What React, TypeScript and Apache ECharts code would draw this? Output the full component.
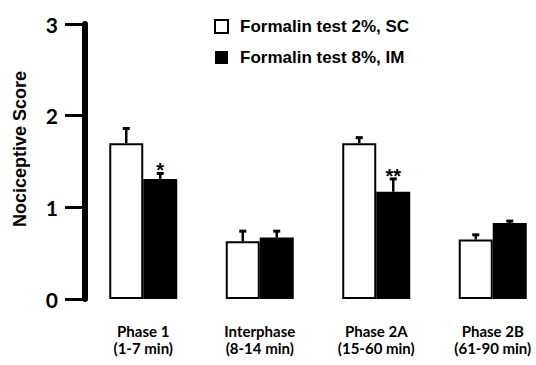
import React, { useEffect, useRef } from "react";
import * as echarts from "echarts";

const categories = ["Phase 1\n(1-7 min)", "Interphase\n(8-14 min)", "Phase 2A\n(15-60 min)", "Phase 2B\n(61-90 min)"];
const seriesNames = ["Formalin test 2%, SC", "Formalin test 8%, IM"];
const values2SC = [1.70, 0.63, 1.70, 0.65];
const errors2SC = [0.16, 0.11, 0.06, 0.05];
const values8IM = [1.31, 0.67, 1.17, 0.83];
const errors8IM = [0.06, 0.07, 0.14, 0.02];
const sig8IM = ["*", "", "**", ""];

const BAR_W = 34;

function errSeries(name: string, values: number[], errs: number[], sign: number, sig: string[]) {
  return {
    type: "custom",
    name: name + " err",
    clip: false,
    z: 5,
    silent: true,
    encode: { x: 0, y: 1 },
    data: values.map((v, i) => [i, v, errs[i]]),
    renderItem: (params: any, api: any) => {
      const i = api.value(0);
      const v = api.value(1);
      const e = api.value(2);
      const idx = params.dataIndex;
      const s = sig[idx] || "";
      const base = api.coord([i, v]);
      const top = api.coord([i, v + e]);
      const x = base[0] + sign * (BAR_W / 2);
      const children: any[] = [
        { type: "line", shape: { x1: x, y1: base[1], x2: x, y2: top[1] }, style: { stroke: "#000", lineWidth: 2.5 } },
        { type: "line", shape: { x1: x - 3.5, y1: top[1], x2: x + 3.5, y2: top[1] }, style: { stroke: "#000", lineWidth: 3 } },
      ];
      if (s) {
        children.push({
          type: "text",
          style: {
            text: s,
            x: x,
            y: top[1] + 7,
            align: "center",
            verticalAlign: "bottom",
            font: "bold 20px 'Liberation Sans', Arial, sans-serif",
            fill: "#000",
          },
        });
      }
      return { type: "group", children };
    },
  };
}

export default function App() {
  const ref = useRef<HTMLDivElement>(null);
  useEffect(() => {
    if (!ref.current) return;
    const chart = echarts.init(ref.current, undefined, { renderer: "svg" });
    chart.setOption({
      animation: false,
      backgroundColor: "#fff",
      grid: { left: 85, top: 24, width: 466, height: 275, outerBoundsMode: "none", containLabel: false },
      legend: {
        orient: "vertical",
        left: 209,
        top: 13,
        itemWidth: 13,
        itemHeight: 13,
        itemGap: 14,
        formatter: "{t|{name}}",
        data: [
          { name: seriesNames[0], icon: "rect", itemStyle: { color: "#fff", borderColor: "#000", borderWidth: 2 } },
          { name: seriesNames[1], icon: "rect", itemStyle: { color: "#000", borderColor: "#000", borderWidth: 0 } },
        ],
        textStyle: {
          fontFamily: "'Liberation Sans', Arial, sans-serif",
          fontWeight: "bold",
          fontSize: 17,
          color: "#000",
          rich: {
            t: {
              fontFamily: "'Liberation Sans', Arial, sans-serif",
              fontWeight: "bold",
              fontSize: 17,
              color: "#000",
              padding: [0, 0, 0, 7],
            },
          },
        },
      },
      xAxis: {
        type: "category",
        data: categories,
        axisLine: { show: false },
        axisTick: { show: false },
        axisLabel: {
          margin: 23,
          fontFamily: "Lato, 'Open Sans', sans-serif",
          fontWeight: "bold",
          fontSize: 15,
          lineHeight: 17,
          color: "#000",
          interval: 0,
        },
      },
      yAxis: {
        type: "value",
        position: "left",
        min: 0,
        max: 3,
        interval: 1,
        splitLine: { show: false },
        axisLine: { show: true, lineStyle: { color: "#000", width: 6 } },
        axisTick: { show: true, inside: false, length: 20, lineStyle: { color: "#000", width: 3 } },
        axisLabel: {
          margin: 27,
          fontFamily: "Lato, 'Open Sans', sans-serif",
          fontWeight: "bold",
          fontSize: 21,
          color: "#000",
        },
      },
      graphic: [
        {
          type: "text",
          x: 20,
          y: 149,
          rotation: Math.PI / 2,
          style: {
            text: "Nociceptive Score",
            align: "center",
            verticalAlign: "middle",
            font: "bold 18px 'Liberation Sans', Arial, sans-serif",
            fill: "#000",
          },
        },
      ],
      series: [
        {
          type: "bar",
          name: seriesNames[0],
          data: values2SC,
          barWidth: BAR_W,
          barGap: "0%",
          itemStyle: { color: "#fff", borderColor: "#000", borderWidth: 2 },
        },
        {
          type: "bar",
          name: seriesNames[1],
          data: values8IM,
          barWidth: BAR_W,
          barGap: "0%",
          itemStyle: { color: "#000", borderColor: "#000", borderWidth: 2 },
        },
        errSeries(seriesNames[0], values2SC, errors2SC, -1, ["", "", "", ""]),
        errSeries(seriesNames[1], values8IM, errors8IM, 1, sig8IM),
      ],
    });
    return () => chart.dispose();
  }, []);
  return <div ref={ref} style={{ width: 536, height: 365, position: "absolute", left: 0, top: 0 }} />;
}
